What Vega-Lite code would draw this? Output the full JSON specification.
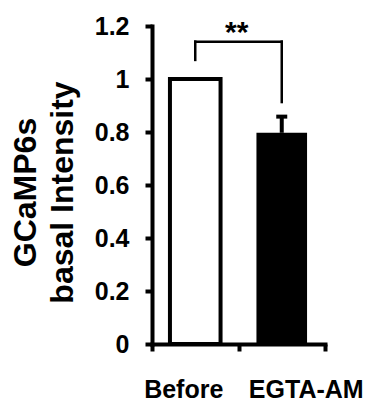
{
  "$schema": "https://vega.github.io/schema/vega-lite/v6.json",
  "width": 173,
  "height": 318,
  "autosize": {"type": "none"},
  "padding": {"left": 152, "top": 26, "right": 45, "bottom": 59},
  "background": "white",
  "config": {"view": {"stroke": null}, "font": "Liberation Sans"},
  "datasets": {
    "bars": [
      {"group": "Before", "mean": 1.0, "upper": 1.0},
      {"group": "EGTA-AM", "mean": 0.797, "upper": 0.858}
    ],
    "bracket": [
      {"a": "Before", "b": "EGTA-AM", "y1": 1.141, "y2": 1.141},
      {"a": "Before", "b": "Before", "y1": 1.072, "y2": 1.141},
      {"a": "EGTA-AM", "b": "EGTA-AM", "y1": 0.913, "y2": 1.141}
    ],
    "sig": [{"a": "Before", "label": "**", "y": 1.14}]
  },
  "layer": [
    {
      "data": {"name": "bars"},
      "mark": {"type": "bar", "stroke": "black", "width": {"band": 0.585}},
      "encoding": {
        "x": {
          "field": "group",
          "type": "nominal",
          "sort": null,
          "title": null,
          "scale": {"domain": ["Before", "EGTA-AM"], "paddingInner": 0, "paddingOuter": 0},
          "axis": {
            "title": null,
            "tickBand": "extent",
            "labelAngle": 0,
            "labelFont": "Liberation Sans",
            "labelFontWeight": "bold",
            "labelFontSize": 25,
            "labelColor": "black",
            "labelBaseline": "top",
            "labelPadding": 26,
            "labelOffset": {"condition": {"test": "datum.value === 'Before'", "value": -12}, "value": 24},
            "tickSize": 7,
            "tickWidth": 4,
            "tickColor": "black",
            "domainColor": "black",
            "domainWidth": 4,
            "domainCap": "square",
            "grid": false
          }
        },
        "y": {
          "field": "mean",
          "type": "quantitative",
          "title": ["GCaMP6s", "basal Intensity"],
          "scale": {"domain": [0, 1.2], "nice": false, "zero": true},
          "axis": {
            "values": [0, 0.2, 0.4, 0.6, 0.8, 1, 1.2],
            "format": "~g",
            "grid": false,
            "titleFont": "Liberation Sans",
            "titleFontSize": 32,
            "titleFontWeight": "bold",
            "titleColor": "black",
            "titleLineHeight": 37,
            "titleAngle": -90,
            "titleAlign": "center",
            "titleBaseline": "alphabetic",
            "titleX": -117,
            "titleY": 166,
            "labelFont": "Liberation Sans",
            "labelFontSize": 25,
            "labelFontWeight": "bold",
            "labelColor": "black",
            "labelPadding": 16,
            "tickSize": 7,
            "tickWidth": 4,
            "tickColor": "black",
            "domainColor": "black",
            "domainWidth": 4,
            "domainCap": "square"
          }
        },
        "fill": {
          "field": "group",
          "type": "nominal",
          "scale": {"domain": ["Before", "EGTA-AM"], "range": ["white", "black"]},
          "legend": null
        },
        "strokeWidth": {"condition": {"test": "datum.group === 'Before'", "value": 4}, "value": 0}
      }
    },
    {
      "data": {"name": "bars"},
      "mark": {"type": "rule", "strokeWidth": 4, "color": "black"},
      "encoding": {
        "x": {"field": "group", "type": "nominal", "title": null},
        "y": {"field": "mean", "type": "quantitative", "title": ["GCaMP6s", "basal Intensity"]},
        "y2": {"field": "upper"}
      }
    },
    {
      "data": {"name": "bars"},
      "mark": {"type": "tick", "size": 11, "thickness": 4, "color": "black", "opacity": 1},
      "encoding": {
        "x": {"field": "group", "type": "nominal", "title": null},
        "y": {"field": "upper", "type": "quantitative", "title": ["GCaMP6s", "basal Intensity"]}
      }
    },
    {
      "data": {"name": "bracket"},
      "mark": {"type": "rule", "strokeWidth": 2.5, "strokeCap": "square", "color": "black"},
      "encoding": {
        "x": {"field": "a", "type": "nominal", "title": null},
        "x2": {"field": "b"},
        "y": {"field": "y1", "type": "quantitative", "title": ["GCaMP6s", "basal Intensity"]},
        "y2": {"field": "y2"}
      }
    },
    {
      "data": {"name": "sig"},
      "mark": {"type": "text", "fontSize": 30, "fontWeight": "bold", "font": "Liberation Sans", "dx": 41.5, "baseline": "alphabetic", "align": "center", "color": "black"},
      "encoding": {
        "x": {"field": "a", "type": "nominal", "title": null},
        "y": {"field": "y", "type": "quantitative", "title": ["GCaMP6s", "basal Intensity"]},
        "text": {"field": "label"}
      }
    }
  ]
}
